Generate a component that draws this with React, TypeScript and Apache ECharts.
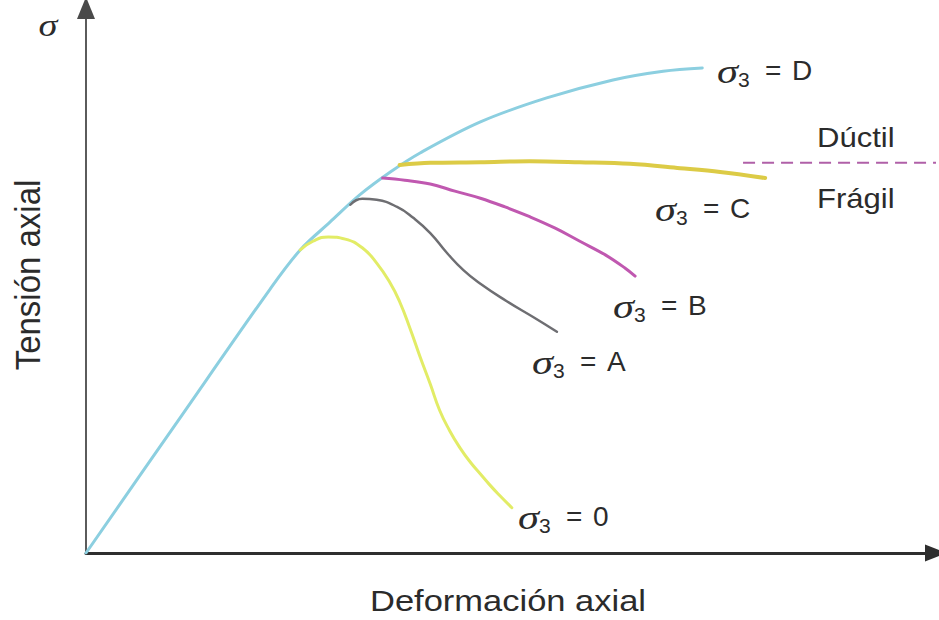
import React, { useEffect, useRef } from "react";
import * as echarts from "echarts";

// Deformación axial (x) vs Tensión axial (y), arbitrary units 0–100
const curveD: number[][] = [[0, 0], [10.8, 24.2], [21.6, 48.3], [25.2, 55.6], [28.7, 60.7], [32.2, 65.7], [35.8, 69.9], [39.3, 73.4], [46.4, 79.1], [54.2, 83.5], [62.0, 86.8], [67.9, 88.4], [72.5, 89.0]];
const curveC: number[][] = [[36.9, 71.2], [40.5, 71.6], [46.4, 71.7], [52.2, 71.9], [58.1, 71.7], [64.0, 71.4], [69.9, 70.6], [74.6, 69.9], [79.9, 68.8]];
const curveB: number[][] = [[34.9, 68.8], [37.5, 68.4], [40.5, 67.7], [43.4, 66.4], [46.4, 65.1], [49.3, 63.5], [52.2, 61.7], [55.2, 59.6], [58.1, 57.2], [61.1, 54.7], [63.4, 52.3], [64.6, 50.8]];
const curveA: number[][] = [[31.1, 63.9], [32.5, 65.0], [34.2, 64.8], [36.6, 63.5], [38.5, 61.5], [40.5, 58.7], [42.5, 55.0], [44.4, 51.9], [46.4, 49.4], [49.5, 46.2], [52.6, 43.3], [55.4, 40.6]];
const curve0: number[][] = [[25.2, 55.6], [26.7, 57.2], [28.5, 58.0], [30.5, 57.6], [32.5, 56.0], [34.2, 53.2], [35.8, 49.5], [36.9, 46.1], [38.1, 41.3], [39.3, 36.0], [40.5, 31.0], [41.6, 26.2], [42.8, 22.4], [44.0, 19.3], [45.2, 16.7], [46.4, 14.5], [47.5, 12.5], [48.7, 10.5], [50.1, 8.3]];
const boundary: number[][] = [[77.3, 71.6], [100, 71.6]];

const curveNames = ["σ3 = D", "σ3 = C", "σ3 = B", "σ3 = A", "σ3 = 0"];
const curveLetters = ["D", "C", "B", "A", "0"];
const curveColors = ["#8ccfe0", "#dccb46", "#c058b0", "#6e6e72", "#e2ec66"];
const curveWidths = [3, 4, 3, 2.5, 3];
const curveSmooth = [0.35, 0.35, 0.4, 0.5, 0.5];
const curves = [curveD, curveC, curveB, curveA, curve0];
// label anchor (left x, middle y) in px
const labelPos: number[][] = [[717, 70], [655, 208], [613, 305], [532, 361], [518, 516]];

const TEXT = "#2b2b2b";
const SANS = "'Liberation Sans', Arial, sans-serif";
const SERIF = "'Liberation Serif', 'DejaVu Serif', serif";

function sigmaLabel(letter: string, x: number, y: number) {
  return {
    type: "group",
    x,
    y,
    children: [
      { type: "text", x: 0, y: 2, scaleX: 1.25, style: { text: "σ", fontFamily: SERIF, fontStyle: "italic", fontSize: 34, fill: TEXT, align: "left", verticalAlign: "middle" } },
      { type: "text", x: 21, y: 9, style: { text: "3", fontFamily: SANS, fontSize: 21, fill: TEXT, align: "left", verticalAlign: "middle" } },
      { type: "text", x: 48, y: 0, style: { text: "=", fontFamily: SANS, fontSize: 28, fill: TEXT, align: "left", verticalAlign: "middle" } },
      { type: "text", x: 75, y: 0, style: { text: letter, fontFamily: SANS, fontSize: 28, fill: TEXT, align: "left", verticalAlign: "middle" } },
    ],
  };
}

export default function App() {
  const ref = useRef<HTMLDivElement>(null);
  useEffect(() => {
    if (!ref.current) return;
    const chart = echarts.init(ref.current, null, { renderer: "svg" });
    const series: any[] = curves.map((c, i) => ({
      name: curveNames[i],
      type: "line",
      data: c,
      showSymbol: false,
      symbol: "none",
      smooth: curveSmooth[i],
      lineStyle: { color: curveColors[i], width: curveWidths[i], cap: "round" },
      z: 2 + (i === 0 ? 0 : 1),
    }));
    series.push({
      name: "Dúctil / Frágil",
      type: "line",
      data: boundary,
      showSymbol: false,
      symbol: "none",
      lineStyle: { color: "#b060a8", width: 2, type: [12, 7] },
    });
    chart.setOption({
      animation: false,
      backgroundColor: "#ffffff",
      grid: { left: 86, top: 8, width: 850, height: 545, containLabel: false },
      xAxis: {
        type: "value",
        min: 0,
        max: 100,
        axisLine: { show: true, symbol: ["none", "triangle"], symbolSize: [17, 22], lineStyle: { color: "#2e2e2e", width: 3 } },
        axisTick: { show: false },
        axisLabel: { show: false },
        splitLine: { show: false },
      },
      yAxis: {
        type: "value",
        min: 0,
        max: 100,
        axisLine: { show: true, symbol: ["none", "triangle"], symbolSize: [18, 22], lineStyle: { color: "#4a4a4a", width: 1.8 } },
        axisTick: { show: false },
        axisLabel: { show: false },
        splitLine: { show: false },
      },
      series,
      graphic: [
        ...curveLetters.map((l, i) => sigmaLabel(l, labelPos[i][0], labelPos[i][1])),
        { type: "text", x: 48, y: 26, scaleX: 1.2, style: { text: "σ", fontFamily: SERIF, fontStyle: "italic", fontSize: 32, fill: TEXT, align: "center", verticalAlign: "middle" } },
        { type: "text", x: 817, y: 138, scaleX: 1.15, style: { text: "Dúctil", fontFamily: SANS, fontSize: 27, fill: TEXT, align: "left", verticalAlign: "middle" } },
        { type: "text", x: 817, y: 199, scaleX: 1.15, style: { text: "Frágil", fontFamily: SANS, fontSize: 27, fill: TEXT, align: "left", verticalAlign: "middle" } },
        { type: "text", x: 508, y: 601, scaleX: 1.15, style: { text: "Deformación axial", fontFamily: SANS, fontSize: 30, fill: TEXT, align: "center", verticalAlign: "middle" } },
        { type: "text", x: 28, y: 275, rotation: Math.PI / 2, scaleX: 1.1, scaleY: 1.15, style: { text: "Tensión axial", fontFamily: SANS, fontSize: 30, fill: TEXT, align: "center", verticalAlign: "middle" } },
      ],
    });
    return () => chart.dispose();
  }, []);
  return <div ref={ref} style={{ position: "fixed", left: 0, top: 0, width: 939, height: 620, background: "#fff" }} />;
}
